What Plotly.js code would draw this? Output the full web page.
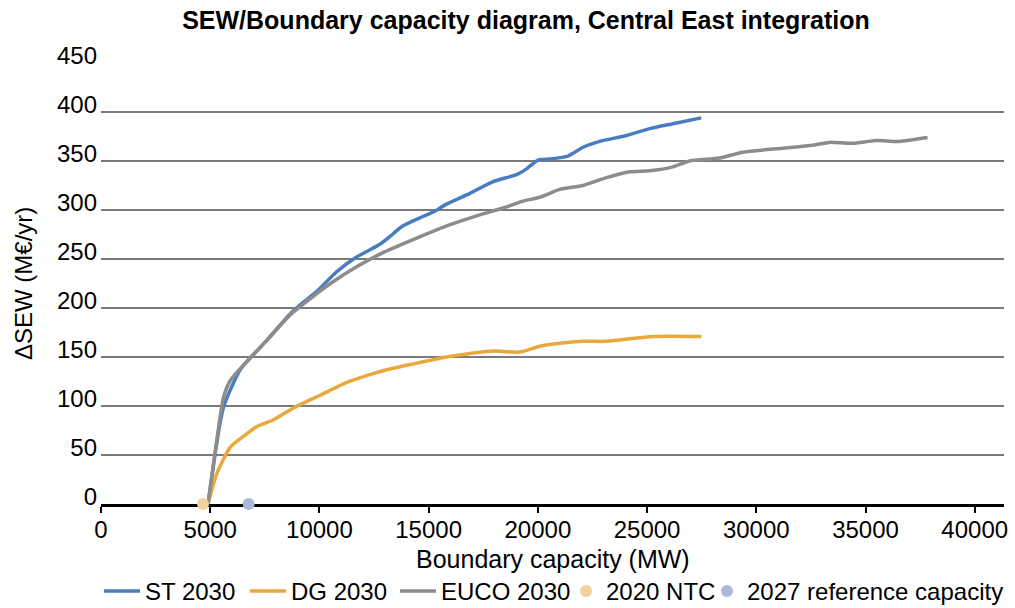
<!DOCTYPE html>
<html>
<head>
<meta charset="utf-8">
<script src="https://cdn.plot.ly/plotly-3.0.1.min.js"></script>
<style>html,body{margin:0;padding:0;background:#fff;}#chart{width:1015px;height:608px;}</style>
</head>
<body>
<div id="chart"></div>
<script>
// ST 2030
const stX = [4900, 5610, 6370, 6750, 7590, 8660, 9270, 9880, 10790, 11700, 12770, 13230, 13760, 14600, 15210, 15820, 16890, 17950, 19020, 19480, 20010, 20540, 21380, 22070, 22830, 24050, 25120, 26180, 27480];
const stY = [0, 99, 137, 147, 167, 194, 206, 217, 237, 252, 265, 273, 283, 292, 298, 306, 317, 329, 336, 342, 351, 352, 355, 364, 370, 376, 383, 388, 394];
// DG 2030
const dgX = [4900, 5300, 5920, 6520, 7140, 7900, 8810, 10030, 11250, 12160, 13080, 14300, 15820, 17040, 17950, 19170, 20090, 21000, 22070, 23140, 25270, 27480];
const dgY = [0, 31, 58, 69, 79, 86, 98, 111, 124, 131, 137, 143, 150, 154, 156, 155, 161, 164, 166, 166, 171, 171];
// EUCO 2030
const eucoX = [4900, 5300, 5610, 5920, 6450, 7590, 8660, 9720, 10640, 11700, 12770, 13990, 15060, 16120, 17340, 18410, 19320, 20090, 21000, 22070, 23140, 24200, 25120, 26180, 26940, 28310, 29380, 31210, 32580, 33340, 34410, 35480, 36540, 37840];
const eucoY = [0, 65, 109, 126, 140, 167, 193, 212, 227, 242, 255, 267, 277, 286, 295, 302, 309, 313, 321, 325, 333, 339, 340, 344, 350, 353, 359, 363, 366, 369, 368, 371, 370, 374];
// Reference points
const ntcX = [4670], ntcY = [0];
const refX = [6760], refY = [0];

const seriesNames = ['ST 2030', 'DG 2030', 'EUCO 2030', '2020 NTC', '2027 reference capacity'];
const xTicks = [0, 5000, 10000, 15000, 20000, 25000, 30000, 35000, 40000];
const yTicks = [0, 50, 100, 150, 200, 250, 300, 350, 400, 450];
const titleText = 'SEW/Boundary capacity diagram, Central East integration';
const xTitle = 'Boundary capacity (MW)';
const yTitle = 'ΔSEW (M€/yr)';

const FONT = 'Liberation Sans, Arial, sans-serif';
const lineStyle = (c) => ({color: c, width: 3.5, shape: 'spline', smoothing: 0.6});

const traces = [
  {x: stX, y: stY, name: seriesNames[0], mode: 'lines', line: lineStyle('#4a7dbf'), legend: 'legend'},
  {x: dgX, y: dgY, name: seriesNames[1], mode: 'lines', line: lineStyle('#e8a83b'), legend: 'legend2'},
  {x: eucoX, y: eucoY, name: seriesNames[2], mode: 'lines', line: lineStyle('#8c8c8c'), legend: 'legend3'},
  {x: ntcX, y: ntcY, name: seriesNames[3], mode: 'markers', marker: {color: '#f3d19f', size: 12}, cliponaxis: false, legend: 'legend4'},
  {x: refX, y: refY, name: seriesNames[4], mode: 'markers', marker: {color: '#a9b8dc', size: 12}, cliponaxis: false, legend: 'legend5'}
];

const legendAt = (px, iw) => ({
  orientation: 'h', x: px / 1015, xref: 'container', xanchor: 'left',
  y: (608 - 591.5) / 608, yref: 'container', yanchor: 'middle',
  font: {family: FONT, size: 24, color: '#000'},
  itemwidth: iw, borderwidth: 0, bgcolor: 'rgba(0,0,0,0)'
});

const layout = {
  width: 1015, height: 608,
  paper_bgcolor: '#fff', plot_bgcolor: '#fff',
  margin: {l: 101, r: 11, t: 63, b: 104},
  font: {family: FONT, size: 24, color: '#000'},
  title: {
    text: '<b>' + titleText + '</b>',
    font: {family: FONT, size: 25, color: '#000'},
    x: 526 / 1015, xref: 'container', xanchor: 'center',
    y: 1 - 20 / 608, yref: 'container', yanchor: 'middle'
  },
  xaxis: {
    range: [0, 41340],
    tickvals: xTicks, ticktext: xTicks.map(String),
    showgrid: false, zeroline: false, layer: 'below traces',
    showline: true, linecolor: '#000', linewidth: 2.5,
    ticks: 'outside', ticklen: 6, tickwidth: 2, tickcolor: '#000',
    ticklabelstandoff: -3,
    tickfont: {family: FONT, size: 24, color: '#000'}
  },
  yaxis: {
    range: [0, 450],
    tickvals: yTicks, ticktext: yTicks.map(String),
    showgrid: true, gridcolor: '#7a7a7a', gridwidth: 1.3,
    zeroline: false, showline: false, ticks: '', layer: 'below traces',
    ticklabelshift: -7, ticklabelstandoff: 3,
    tickfont: {family: FONT, size: 24, color: '#000'}
  },
  annotations: [
    {text: xTitle, xref: 'paper', yref: 'paper', x: 0.5, y: (504 - 559) / 441,
     xanchor: 'center', yanchor: 'middle', showarrow: false,
     font: {family: FONT, size: 25, color: '#000'}},
    {text: yTitle, xref: 'paper', yref: 'paper', x: (23.5 - 101) / 903.7, y: 0.5,
     xanchor: 'center', yanchor: 'middle', textangle: -90, showarrow: false,
     font: {family: FONT, size: 24, color: '#000'}}
  ],
  showlegend: true,
  legend: legendAt(99, 36),
  legend2: legendAt(245, 36),
  legend3: legendAt(395, 36),
  legend4: legendAt(566, 30),
  legend5: legendAt(707, 30)
};

Plotly.newPlot('chart', traces, layout, {displayModeBar: false, staticPlot: true});
</script>
</body>
</html>
